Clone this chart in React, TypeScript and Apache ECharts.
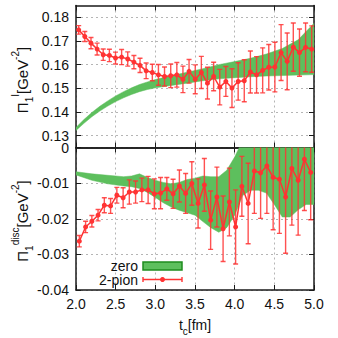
import React, { useEffect, useRef } from 'react';
import * as echarts from 'echarts';

// ---- top panel (Pi_1^I) : 2-pion data ----
const tTop = [2.034, 2.111, 2.189, 2.266, 2.343, 2.421, 2.498, 2.575, 2.652, 2.730, 2.807, 2.884, 2.962, 3.039, 3.116, 3.194, 3.271, 3.348, 3.425, 3.503, 3.580, 3.657, 3.735, 3.812, 3.889, 3.966, 4.044, 4.121, 4.198, 4.276, 4.353, 4.430, 4.507, 4.585, 4.662, 4.739, 4.817, 4.894, 4.971];
const piTop = [0.1747, 0.1719, 0.1691, 0.1666, 0.1642, 0.1639, 0.1628, 0.1632, 0.1624, 0.1611, 0.1597, 0.1574, 0.1567, 0.1557, 0.1550, 0.1553, 0.1557, 0.1538, 0.1572, 0.1538, 0.1567, 0.1522, 0.1550, 0.1505, 0.1529, 0.1501, 0.1529, 0.1532, 0.1569, 0.1557, 0.1576, 0.1589, 0.1590, 0.1651, 0.1614, 0.1674, 0.1651, 0.1673, 0.1666];
const errTop = [0.0018, 0.0021, 0.0024, 0.0025, 0.0024, 0.0026, 0.0025, 0.0032, 0.0030, 0.0028, 0.0030, 0.0033, 0.0035, 0.0044, 0.0040, 0.0050, 0.0052, 0.0056, 0.0050, 0.0061, 0.0068, 0.0067, 0.0060, 0.0075, 0.0063, 0.0082, 0.0079, 0.0089, 0.0089, 0.0077, 0.0095, 0.0096, 0.0105, 0.0118, 0.0120, 0.0102, 0.0100, 0.0103, 0.0098];

// ---- top panel : "zero" band ----
const bandTopT = [2.0, 2.1, 2.2, 2.3, 2.4, 2.5, 2.6, 2.7, 2.8, 2.9, 3.0, 3.2, 3.4, 3.6, 3.8, 4.0, 4.2, 4.4, 4.6, 4.8, 5.0];
const bandTopLo = [0.1322, 0.1352, 0.1380, 0.1404, 0.1425, 0.1444, 0.1460, 0.1474, 0.1486, 0.1495, 0.1502, 0.1512, 0.1522, 0.1532, 0.1540, 0.1545, 0.1549, 0.1552, 0.1554, 0.1556, 0.1558];
const bandTopHi = [0.1335, 0.1368, 0.1398, 0.1424, 0.1447, 0.1468, 0.1486, 0.1502, 0.1516, 0.1527, 0.1537, 0.1553, 0.1568, 0.1583, 0.1600, 0.1613, 0.1627, 0.1645, 0.1668, 0.1705, 0.1775];

// ---- bottom panel (Pi_1^disc) : 2-pion data ----
const tBot = [2.042, 2.121, 2.200, 2.278, 2.357, 2.436, 2.515, 2.594, 2.672, 2.751, 2.830, 2.909, 2.988, 3.066, 3.145, 3.224, 3.303, 3.382, 3.460, 3.539, 3.618, 3.697, 3.776, 3.854, 3.933, 4.012, 4.091, 4.170, 4.248, 4.327, 4.406, 4.485, 4.564, 4.642, 4.721, 4.800, 4.879, 4.958];
const piBot = [-0.0263, -0.0223, -0.0207, -0.0190, -0.0162, -0.0164, -0.0134, -0.0141, -0.0125, -0.0125, -0.0119, -0.0119, -0.0130, -0.0128, -0.0116, -0.0130, -0.0108, -0.0129, -0.0101, -0.0157, -0.0105, -0.0204, -0.0139, -0.0228, -0.0153, -0.0223, -0.0109, -0.0157, -0.0066, -0.0071, -0.0052, -0.0084, -0.0089, -0.0139, -0.0059, -0.0092, -0.0033, -0.0070];
const errBot = [0.0016, 0.0016, 0.0016, 0.0016, 0.0021, 0.0021, 0.0022, 0.0028, 0.0034, 0.0031, 0.0033, 0.0038, 0.0042, 0.0044, 0.0032, 0.0041, 0.0045, 0.0056, 0.0061, 0.0069, 0.0074, 0.0082, 0.0084, 0.0092, 0.0095, 0.0104, 0.0084, 0.0113, 0.0119, 0.0128, 0.0133, 0.0147, 0.0152, 0.0158, 0.0159, 0.0154, 0.0144, 0.0133];

// ---- bottom panel : "zero" band ----
const bandBotT = [2.0, 2.2, 2.4, 2.6, 2.7, 2.8, 2.9, 3.0, 3.1, 3.2, 3.3, 3.4, 3.5, 3.6, 3.7, 3.8, 3.9, 4.0, 4.1, 4.2, 4.3, 4.4, 4.5, 4.6, 4.7, 4.8, 4.9, 5.0];
const bandBotLo = [-0.0077, -0.0092, -0.0102, -0.0108, -0.0110, -0.0115, -0.0126, -0.0140, -0.0155, -0.0167, -0.0176, -0.0183, -0.0190, -0.0208, -0.0225, -0.0238, -0.0225, -0.0190, -0.0135, -0.0120, -0.0120, -0.0128, -0.0160, -0.0195, -0.0195, -0.0175, -0.0160, -0.0160];
const bandBotHi = [-0.0068, -0.0074, -0.0078, -0.0082, -0.0080, -0.0074, -0.0084, -0.0092, -0.0098, -0.0102, -0.0098, -0.0090, -0.0086, -0.0080, -0.0082, -0.0082, -0.0064, -0.0027, 0.0020, 0.0040, 0.0050, 0.0060, 0.0060, 0.0060, 0.0060, 0.0060, 0.0060, 0.0060];

// ---- axis ticks ----
const yTopTicks = [0.13, 0.14, 0.15, 0.16, 0.17, 0.18];
const yBotTicks = [-0.04, -0.03, -0.02, -0.01, 0];

const RED = '#ff3333';
const GREEN = '#5dbf5d';
const GREEN_EDGE = '#1e8c1e';
const FRAME = '#1a1a1a';
const FONT = 'Liberation Sans';

function errorBarItem(params: any, api: any) {
  const x = api.value(0);
  const y = api.value(1);
  const e = api.value(2);
  const hi = api.coord([x, y + e]);
  const lo = api.coord([x, y - e]);
  const w = 2.5;
  const st = { stroke: RED, lineWidth: 1.4, opacity: 0.85 };
  return {
    type: 'group',
    children: [
      { type: 'line', shape: { x1: hi[0], y1: hi[1], x2: lo[0], y2: lo[1] }, style: st },
      { type: 'line', shape: { x1: hi[0] - w, y1: hi[1], x2: hi[0] + w, y2: hi[1] }, style: st },
      { type: 'line', shape: { x1: lo[0] - w, y1: lo[1], x2: lo[0] + w, y2: lo[1] }, style: st },
    ],
  };
}

// band drawn as one polygon (upper edge forward, lower edge back) through the axis scales
function bandRenderer(rows: number[][]) {
  return (params: any, api: any) => {
    if (params.dataIndex !== 0) return null;
    const upper = rows.map((r) => api.coord([r[0], r[2]]));
    const lower = rows.map((r) => api.coord([r[0], r[1]])).reverse();
    return {
      type: 'polygon',
      shape: { points: upper.concat(lower) },
      style: { fill: GREEN, stroke: GREEN, lineWidth: 0.5 },
    };
  };
}

function xAxisDef(gridIndex: number, position: 'top' | 'bottom', labels: boolean, split: boolean) {
  return {
    type: 'value',
    gridIndex,
    position,
    min: 2,
    max: 5,
    interval: 0.5,
    axisLine: { show: true, onZero: false, lineStyle: { color: FRAME, width: 1.5 } },
    axisTick: { show: true, inside: true, length: 5, lineStyle: { color: FRAME, width: 1 } },
    axisLabel: {
      show: labels,
      margin: 7,
      fontSize: 14,
      fontFamily: FONT,
      color: '#111',
      formatter: (v: number) => v.toFixed(1),
    },
    splitLine: { show: split, lineStyle: { color: '#b5b5b5', type: [2, 3], width: 1 } },
  };
}

function yAxisDef(gridIndex: number, position: 'left' | 'right', min: number, max: number, ticks: number[], labels: boolean, split: boolean, fmt: (v: number) => string) {
  return {
    type: 'value',
    gridIndex,
    position,
    min,
    max,
    axisLine: { show: true, onZero: false, lineStyle: { color: FRAME, width: 1.5 } },
    axisTick: { show: true, inside: true, length: 5, customValues: ticks, lineStyle: { color: FRAME, width: 1 } },
    axisLabel: {
      show: labels,
      customValues: ticks,
      margin: 7,
      fontSize: 14,
      lineHeight: 11,
      fontFamily: FONT,
      color: '#111',
      formatter: fmt,
    },
    splitLine: { show: split, lineStyle: { color: '#b5b5b5', type: [2, 3], width: 1 } },
  };
}

export default function App() {
  const ref = useRef<HTMLDivElement>(null);

  useEffect(() => {
    if (!ref.current) return;
    const chart = echarts.init(ref.current, undefined, { renderer: 'svg' });

    const topBandRows = bandTopT.map((t, i) => [t, bandTopLo[i], bandTopHi[i]]);
    const botBandRows = bandBotT.map((t, i) => [t, bandBotLo[i], bandBotHi[i]]);

    const topPts = tTop.map((t, i) => [t, piTop[i]]);
    const topErr = tTop.map((t, i) => [t, piTop[i], errTop[i]]);
    const botPts = tBot.map((t, i) => [t, piBot[i]]);
    const botErr = tBot.map((t, i) => [t, piBot[i], errBot[i]]);

    const fmtTop = (v: number) => v.toFixed(2);
    const fmtBot = (v: number) => (Math.abs(v) < 1e-9 ? '0' : v.toFixed(2));

    const option: any = {
      animation: false,
      backgroundColor: '#ffffff',
      grid: [
        { left: 76, right: 24, top: 5.5, height: 142, containLabel: false },
        { left: 76, right: 24, top: 147.5, height: 142.5, containLabel: false },
      ],
      xAxis: [
        xAxisDef(0, 'bottom', false, true),
        xAxisDef(0, 'top', false, false),
        xAxisDef(1, 'bottom', true, true),
        xAxisDef(1, 'top', false, false),
      ],
      yAxis: [
        yAxisDef(0, 'left', 0.125, 0.185, yTopTicks, true, true, fmtTop),
        yAxisDef(0, 'right', 0.125, 0.185, yTopTicks, false, false, fmtTop),
        yAxisDef(1, 'left', -0.04, 0, yBotTicks, true, true, fmtBot),
        yAxisDef(1, 'right', -0.04, 0, yBotTicks, false, false, fmtBot),
      ],
      series: [
        {
          name: 'zero', type: 'custom', xAxisIndex: 0, yAxisIndex: 0, clip: true,
          data: topBandRows, encode: { x: 0, y: [1, 2] }, renderItem: bandRenderer(topBandRows),
          silent: true, z: 1,
        },
        {
          name: 'zero', type: 'custom', xAxisIndex: 2, yAxisIndex: 2, clip: true,
          data: botBandRows, encode: { x: 0, y: [1, 2] }, renderItem: bandRenderer(botBandRows),
          silent: true, z: 1,
        },
        {
          name: '2-pion-err', type: 'custom', xAxisIndex: 0, yAxisIndex: 0, clip: true,
          data: topErr, encode: { x: 0, y: 1 }, renderItem: errorBarItem, z: 3,
        },
        {
          name: '2-pion', type: 'line', xAxisIndex: 0, yAxisIndex: 0, data: topPts,
          symbol: 'circle', symbolSize: 5, itemStyle: { color: RED },
          lineStyle: { color: RED, width: 1.5 }, z: 4,
        },
        {
          name: '2-pion-err', type: 'custom', xAxisIndex: 2, yAxisIndex: 2, clip: true,
          data: botErr, encode: { x: 0, y: 1 }, renderItem: errorBarItem, z: 3,
        },
        {
          name: '2-pion', type: 'line', xAxisIndex: 2, yAxisIndex: 2, data: botPts,
          symbol: 'circle', symbolSize: 5, itemStyle: { color: RED },
          lineStyle: { color: RED, width: 1.5 }, z: 4,
        },
      ],
      graphic: [
        {
          type: 'text', x: 22, y: 80, rotation: Math.PI / 2, z: 10,
          style: {
            text: '{a|Π}{s|1}{u|I}{a|[GeV}{u|-2}{a|]}',
            align: 'center', verticalAlign: 'middle', textAlign: 'center', textVerticalAlign: 'middle',
            fill: '#111', fontFamily: FONT, fontSize: 15,
            rich: {
              a: { fontSize: 15, fontFamily: FONT, fill: '#111', lineHeight: 24 },
              s: { fontSize: 10, fontFamily: FONT, fill: '#111', verticalAlign: 'bottom' },
              u: { fontSize: 10, fontFamily: FONT, fill: '#111', verticalAlign: 'top' },
            },
          },
        },
        {
          type: 'text', x: 22, y: 221, rotation: Math.PI / 2, z: 10,
          style: {
            text: '{a|Π}{s|1}{u|disc}{a|[GeV}{u|-2}{a|]}',
            align: 'center', verticalAlign: 'middle', textAlign: 'center', textVerticalAlign: 'middle',
            fill: '#111', fontFamily: FONT, fontSize: 15,
            rich: {
              a: { fontSize: 15, fontFamily: FONT, fill: '#111', lineHeight: 24 },
              s: { fontSize: 10, fontFamily: FONT, fill: '#111', verticalAlign: 'bottom' },
              u: { fontSize: 10, fontFamily: FONT, fill: '#111', verticalAlign: 'top' },
            },
          },
        },
        {
          type: 'text', x: 195, y: 325, z: 10,
          style: {
            text: '{a|t}{s|c}{a|[fm]}',
            align: 'center', verticalAlign: 'middle', textAlign: 'center', textVerticalAlign: 'middle',
            fill: '#111', fontFamily: FONT, fontSize: 14,
            rich: {
              a: { fontSize: 14, fontFamily: FONT, fill: '#111', lineHeight: 22 },
              s: { fontSize: 10, fontFamily: FONT, fill: '#111', verticalAlign: 'bottom' },
            },
          },
        },
        {
          type: 'text', x: 138, y: 266, z: 10,
          style: { text: 'zero', align: 'right', verticalAlign: 'middle', textAlign: 'right', textVerticalAlign: 'middle', fill: '#111', fontFamily: FONT, fontSize: 14, lineHeight: 12 },
        },
        {
          type: 'rect', z: 10,
          shape: { x: 143, y: 262, width: 39, height: 8 },
          style: { fill: GREEN, stroke: GREEN_EDGE, lineWidth: 1.5 },
        },
        {
          type: 'text', x: 138, y: 279.5, z: 10,
          style: { text: '2-pion', align: 'right', verticalAlign: 'middle', textAlign: 'right', textVerticalAlign: 'middle', fill: '#111', fontFamily: FONT, fontSize: 14, lineHeight: 12 },
        },
        { type: 'line', z: 10, shape: { x1: 143, y1: 279.5, x2: 182, y2: 279.5 }, style: { stroke: RED, lineWidth: 1.4 } },
        { type: 'line', z: 10, shape: { x1: 143, y1: 277, x2: 143, y2: 282 }, style: { stroke: RED, lineWidth: 1.4 } },
        { type: 'line', z: 10, shape: { x1: 182, y1: 277, x2: 182, y2: 282 }, style: { stroke: RED, lineWidth: 1.4 } },
        { type: 'circle', z: 10, shape: { cx: 162.5, cy: 279.5, r: 2.5 }, style: { fill: RED } },
      ],
    };

    chart.setOption(option);
    return () => chart.dispose();
  }, []);

  return (
    <div
      ref={ref}
      style={{ position: 'fixed', left: 0, top: 0, width: 338, height: 338, background: '#fff' }}
    />
  );
}
